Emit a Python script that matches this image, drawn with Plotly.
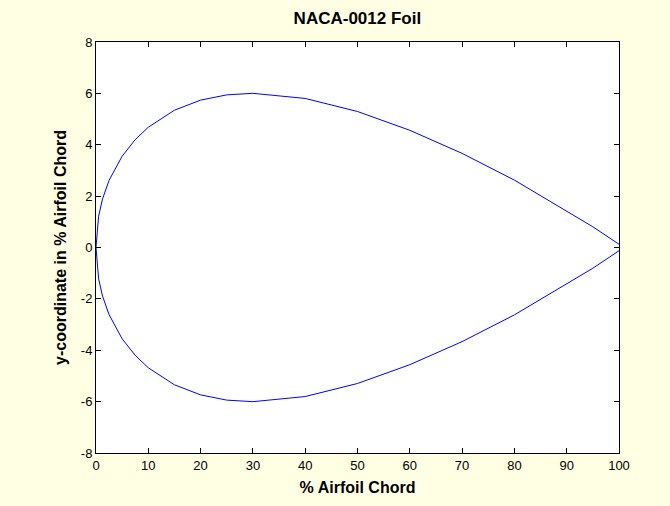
import plotly.graph_objects as go

# NACA-0012 ordinates (% chord)
x_chord = [0, 0.5, 1.25, 2.5, 5, 7.5, 10, 15, 20, 25, 30, 40, 50, 60, 70, 80, 95, 100]
y_upper = [0, 1.22, 1.894, 2.615, 3.555, 4.2, 4.683, 5.345, 5.737, 5.941, 6.002, 5.803, 5.294, 4.563, 3.664, 2.623, 0.807, 0.126]

x_ticks = [0, 10, 20, 30, 40, 50, 60, 70, 80, 90, 100]
y_ticks = [-8, -6, -4, -2, 0, 2, 4, 6, 8]
x_ticklabels = [str(v) for v in x_ticks]
y_ticklabels = [str(v) for v in y_ticks]

xs = x_chord[::-1] + x_chord[1:]
ys = y_upper[::-1] + [-v for v in y_upper[1:]]

fig = go.Figure()
fig.add_trace(go.Scatter(x=xs, y=ys, mode="lines",
                         line=dict(color="#0000FF", width=1),
                         showlegend=False, hoverinfo="skip"))

axis_common = dict(showline=True, linecolor="black", linewidth=1, mirror="ticks",
                   ticks="inside", ticklen=5, tickcolor="black", tickwidth=1,
                   showgrid=False, zeroline=False,
                   tickfont=dict(family="Liberation Sans, Arial", size=13, color="black"))

fig.update_layout(
    width=670, height=506,
    margin=dict(l=96, r=51, t=42, b=53),
    paper_bgcolor="#FFFFE4", plot_bgcolor="white",
    title=dict(text="<b>NACA-0012 Foil</b>", x=0.5334, xanchor="center", y=0.965, yanchor="middle",
               font=dict(family="Liberation Sans, Arial", size=17, color="black")),
    xaxis=dict(range=[0, 100], tickvals=x_ticks, ticktext=x_ticklabels,
               title=dict(text="<b>% Airfoil Chord</b>", standoff=10,
                          font=dict(family="Liberation Sans, Arial", size=16, color="black")),
               **axis_common),
    yaxis=dict(range=[-8, 8], tickvals=y_ticks, ticktext=y_ticklabels,
               title=dict(text="<b>y-coordinate in % Airfoil Chord</b>", standoff=10,
                          font=dict(family="Liberation Sans, Arial", size=16, color="black")),
               **axis_common),
)

fig.write_html("out.html")
